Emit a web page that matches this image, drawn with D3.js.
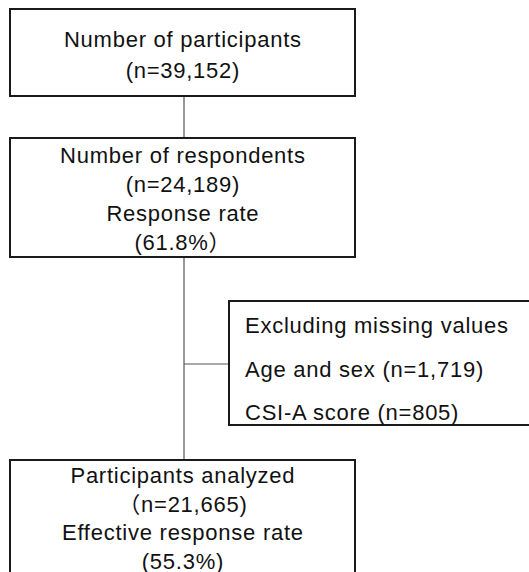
<!DOCTYPE html>
<html>
<head>
<meta charset="utf-8">
<script src="https://cdn.jsdelivr.net/npm/d3@7"></script>
<style>
  body { margin: 0; background: #fff; }
  svg text { font-family: "Liberation Sans", Arial, "Noto Sans CJK JP", sans-serif; fill: #111; }
</style>
</head>
<body>
<div id="chart"></div>
<script>
const width = 529;
const height = 572;

// flow box labels, one array per box
const participantsLines = ["Number of participants", "(n=39,152)"];
const respondentsLines = ["Number of respondents", "(n=24,189)", "Response rate", "(61.8%\uFF09"];
const excludedLines = ["Excluding missing values", "Age and sex (n=1,719)", "CSI-A score (n=805)"];
const analyzedLines = ["Participants analyzed", "\uFF08n=21,665)", "Effective response rate", "(55.3%)"];

const boxes = [
  {id: "participants", lines: participantsLines, x0: 10, x1: 355, y0: 9, y1: 96, first: 47, step: 30.5, align: "middle"},
  {id: "respondents", lines: respondentsLines, x0: 10, x1: 355, y0: 138, y1: 257, first: 163, step: 29, align: "middle"},
  {id: "excluded", lines: excludedLines, x0: 229, x1: 540, y0: 301, y1: 425, first: 333, step: 43.5, align: "start"},
  {id: "analyzed", lines: analyzedLines, x0: 10, x1: 355, y0: 460, y1: 600, first: 483, step: 28.5, align: "middle"}
];

const trunkX = 184;
const branchY = 364;

const svg = d3.select("#chart")
  .append("svg")
  .attr("width", width)
  .attr("height", height);

// connectors
const connectors = [
  [[trunkX, 96], [trunkX, 138]],
  [[trunkX, 257], [trunkX, 460]],
  [[trunkX, branchY], [229, branchY]]
];

svg.append("g")
  .attr("stroke", "#555")
  .attr("stroke-width", 1.2)
  .selectAll("path")
  .data(connectors)
  .join("path")
  .attr("fill", "none")
  .attr("d", d3.line());

const box = svg.append("g")
  .selectAll("g")
  .data(boxes)
  .join("g");

box.append("rect")
  .attr("x", d => d.x0)
  .attr("y", d => d.y0)
  .attr("width", d => d.x1 - d.x0)
  .attr("height", d => d.y1 - d.y0)
  .attr("fill", "#fff")
  .attr("stroke", "#1a1a1a")
  .attr("stroke-width", 2);

box.each(function (d) {
  const tx = d.align === "middle" ? (d.x0 + d.x1) / 2 + 0.4 : d.x0 + 16;
  d3.select(this)
    .selectAll("text")
    .data(d.lines)
    .join("text")
    .attr("x", tx)
    .attr("y", (t, i) => d.first + i * d.step)
    .attr("text-anchor", d.align)
    .style("font-size", "22px")
    .style("letter-spacing", "0.75px")
    .text(t => t);
});
</script>
</body>
</html>
